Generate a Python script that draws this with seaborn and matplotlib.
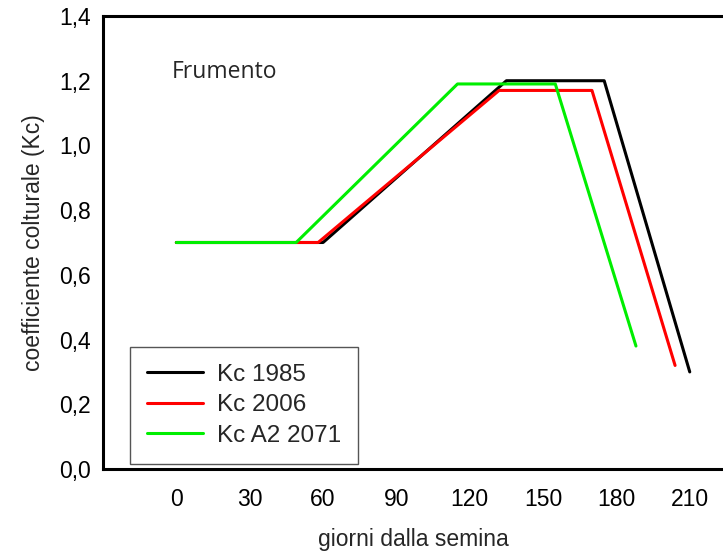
import matplotlib
matplotlib.use("Agg")
import matplotlib.pyplot as plt
import seaborn as sns
import pandas as pd

sns.set_theme(style="white")
plt.rcParams['font.family'] = ['Liberation Sans', 'DejaVu Sans']

# Data
days_1985 = [0, 60, 135, 175, 210]
kc_1985 = [0.70, 0.70, 1.20, 1.20, 0.30]
days_2006 = [0, 58, 132, 170, 204]
kc_2006 = [0.70, 0.70, 1.17, 1.17, 0.32]
days_2071 = [0, 49, 115, 155, 188]
kc_2071 = [0.70, 0.70, 1.19, 1.19, 0.38]
series_names = ["Kc 1985", "Kc 2006", "Kc A2 2071"]
colors = ["#000000", "#ff0000", "#00ee00"]
xticks = [0, 30, 60, 90, 120, 150, 180, 210]
yticks = [0.0, 0.2, 0.4, 0.6, 0.8, 1.0, 1.2, 1.4]
ytick_labels = ["0,0", "0,2", "0,4", "0,6", "0,8", "1,0", "1,2", "1,4"]

df = pd.concat([
    pd.DataFrame({"giorni": days_1985, "Kc": kc_1985, "serie": series_names[0]}),
    pd.DataFrame({"giorni": days_2006, "Kc": kc_2006, "serie": series_names[1]}),
    pd.DataFrame({"giorni": days_2071, "Kc": kc_2071, "serie": series_names[2]}),
], ignore_index=True)

fig = plt.figure(figsize=(7.23, 5.56), dpi=100)
ax = fig.add_axes([0.1425, 0.1565, 0.8575, 0.8147])

sns.lineplot(data=df, x="giorni", y="Kc", hue="serie", palette=colors,
             hue_order=series_names, linewidth=2.2, sort=False, ax=ax,
             estimator=None)

ax.set_xlim(-30, 223.6)
ax.set_ylim(0, 1.4)
ax.set_xticks(xticks)
ax.set_xticklabels([str(t) for t in xticks])
ax.set_yticks(yticks)
ax.set_yticklabels(ytick_labels)

for s in ["left", "bottom", "top"]:
    ax.spines[s].set_visible(True)
    ax.spines[s].set_color("black")
    ax.spines[s].set_linewidth(2.2)
ax.spines["right"].set_visible(False)

ax.tick_params(axis="both", direction="in", length=6, width=2.2, colors="black",
               labelsize=16.5)
ax.tick_params(axis="x", pad=14)
ax.tick_params(axis="y", pad=9)
ax.tick_params(top=False, right=False)

ax.set_xlabel("giorni dalla semina", fontsize=16.5, labelpad=12)
ax.set_ylabel("coefficiente colturale (Kc)", fontsize=16.5, labelpad=10)

ax.text(-2, 1.227, "Frumento", fontsize=16.5, ha="left", va="center",
        family=["Open Sans", "DejaVu Sans"])

leg = ax.legend(loc="lower left", bbox_to_anchor=(0.0435, 0.011), fontsize=17.5,
                frameon=True, fancybox=False, framealpha=1, edgecolor="#555555",
                handlelength=2.3, handletextpad=0.57, borderpad=0.7,
                labelspacing=0.35, borderaxespad=0)
leg.get_frame().set_linewidth(1.0)
for h in leg.get_lines():
    h.set_linewidth(2.2)

fig.savefig("out.png", dpi=100)
